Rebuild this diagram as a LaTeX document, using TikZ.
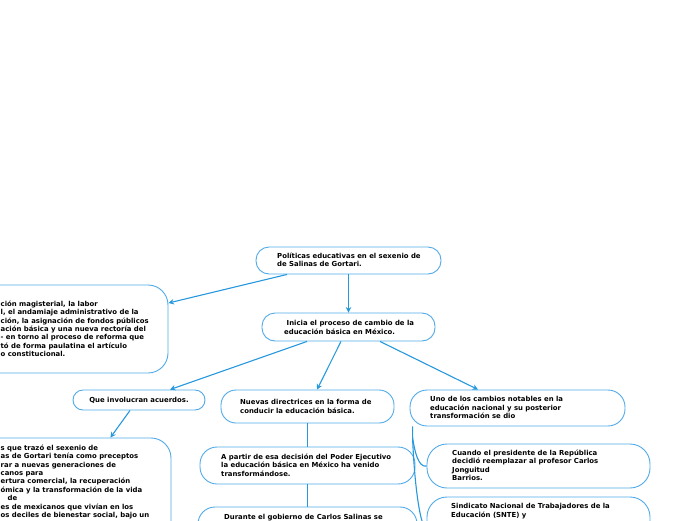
\documentclass[tikz,border=0pt]{standalone}
\usepackage{fontspec}
\setmainfont{DejaVu Sans}
\usetikzlibrary{arrows.meta,calc}
\definecolor{conncol}{RGB}{38,152,222}
\definecolor{boxcol}{RGB}{80,170,232}
\begin{document}
\begin{tikzpicture}[x=1pt,y=-1pt,
  box/.style={draw=boxcol, line width=0.9pt, fill=white, rounded corners=#1, inner sep=0pt},
  box/.default=13pt,
  txt/.style={font=\bfseries\fontsize{6.9}{8.4}\selectfont, align=left, inner sep=0pt, anchor=north west, text=black},
  conn/.style={draw=conncol, line width=1.1pt, -{Stealth[length=5.5pt,width=5.5pt]}},
  link/.style={draw=conncol, line width=1.1pt}]
\useasboundingbox (0,0) rectangle (696,520);

% boxes
\node[box=13pt, minimum width=185pt, minimum height=27pt] (root) at (348.5,260.5) {};
\node[box=20pt, minimum width=288pt, minimum height=88pt] (leftbox) at (24,329) {};
\node[box=13pt, minimum width=173pt, minimum height=28pt] (box3) at (348.5,327) {};
\node[box=10pt, minimum width=132pt, minimum height=20pt] (box4) at (139,400) {};
\node[box=15pt, minimum width=173pt, minimum height=33pt] (box5) at (307.5,406.5) {};
\node[box=17pt, minimum width=215pt, minimum height=36pt] (box6) at (517.5,408) {};
\node[box=20pt, minimum width=291pt, minimum height=132pt] (leftbottom) at (25.5,504) {};
\node[box=17pt, minimum width=215pt, minimum height=37pt] (box8) at (307.5,465.5) {};
\node[box=17pt, minimum width=219pt, minimum height=53pt] (box9) at (307.5,533.5) {};
\node[box=20pt, minimum width=223pt, minimum height=44pt] (box10) at (538.5,466) {};
\node[box=20pt, minimum width=223pt, minimum height=63pt] (box11) at (538.5,528.5) {};

% texts
\node[txt] (t1) at (277,252.5) {Políticas educativas en el sexenio de\\de Salinas de Gortari.};
\node[txt] (t2) at (0.5,300.5) {ción magisterial, la labor\\l, el andamiaje administrativo de la\\ción, la asignación de fondos públicos\\ación básica y una nueva rectoría del\\- en torno al proceso de reforma que\\tó de forma paulatina el artículo\\o constitucional.};
\node[txt] (t3) at (284,320.5) {\hspace{2.5pt}Inicia el proceso de cambio de la\\educación básica en México.};
\node[txt, anchor=base] (t4) at (139,402.2) {Que involucran acuerdos.};
\node[txt] (t5) at (240,399.5) {Nuevas directrices en la forma de\\conducir la educación básica.};
\node[txt] (t6) at (430,396.5) {Uno de los cambios notables en la\\educación nacional y su posterior\\transformación se dio};
\node[txt] (t7) at (0.5,444.5) {s que trazó el sexenio de\\as de Gortari tenía como preceptos\\rar a nuevas generaciones de\\canos para\\ertura comercial, la recuperación\\ómica y la transformación de la vida\\\hspace{7pt}de\\es de mexicanos que vivían en los\\os deciles de bienestar social, bajo un};
\node[txt] (t8) at (221,453.5) {A partir de esa decisión del Poder Ejecutivo\\la educación básica en México ha venido\\transformándose.};
\node[txt] (t9) at (224,514.5) {Durante el gobierno de Carlos Salinas se};
\node[txt] (t10) at (452,449.5) {Cuando el presidente de la República\\decidió reemplazar al profesor Carlos\\Jonguitud\\Barrios.};
\node[txt] (t11) at (451,503.5) {Sindicato Nacional de Trabajadores de la\\Educación (SNTE) y};

% connectors
\draw[conn] ([xshift=-61.5pt]root.south) -- ([yshift=26pt]leftbox.east);
\draw[conn] (root.south) -- (box3.north);
\draw[conn] ([xshift=-41.5pt]box3.south) -- ([xshift=31pt]box4.north);
\draw[conn] ([xshift=-7.5pt]box3.south) -- ([xshift=9.5pt]box5.north);
\draw[conn] ([xshift=31.5pt]box3.south) -- ([xshift=-39.5pt]box6.north);
\draw[conn] ([xshift=-9pt]box4.south) -- ([xshift=-61pt]leftbottom.north east);
\draw[link] (box5.south) -- (box8.north);
\draw[link] (box8.south) -- (box9.north);
\draw[link] ([xshift=3pt]box6.south west) coordinate (s6) -- ++(0,11) coordinate (s6b)
  .. controls ++(2,14) and ++(-8,2) .. (box10.west);
\draw[link] (s6b) .. controls ++(2,50) and ++(-6,0) .. (box11.west);
\end{tikzpicture}
\end{document}
